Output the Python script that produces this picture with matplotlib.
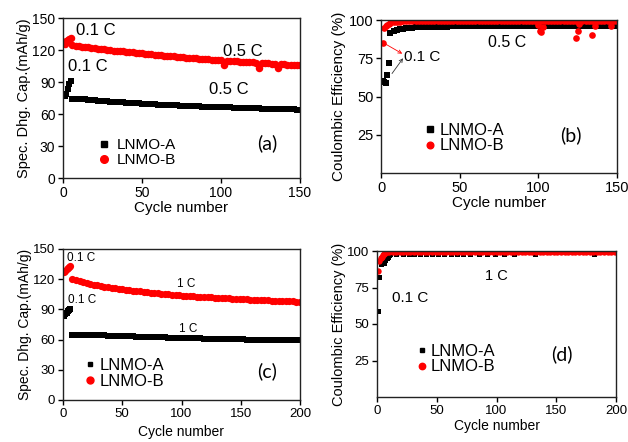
import matplotlib
matplotlib.use("Agg")
import matplotlib.pyplot as plt

plt.rcParams['font.family'] = ['Liberation Sans', 'DejaVu Sans']

# ---------------- Panel (a): capacity, 0.1 C then 0.5 C ----------------
a_slow_cyc = [1, 2, 3, 4, 5]
a_A_slow = [76.5, 79, 83, 88, 90.5]
a_B_slow = [126, 128, 129, 130, 131]
a_fast_cyc = list(range(6, 151, 2))
a_A_fast = [74.5, 74.3, 74.2, 74.0, 73.7, 73.4, 73.1, 72.8, 72.5, 72.3,
            72.0, 71.8, 71.6, 71.4, 71.2, 71.0, 70.8, 70.6, 70.4, 70.2,
            70.0, 69.9, 69.7, 69.5, 69.4, 69.2, 69.1, 68.9, 68.8, 68.6,
            68.5, 68.3, 68.2, 68.1, 67.9, 67.8, 67.7, 67.5, 67.4, 67.3,
            67.2, 67.0, 66.9, 66.8, 66.7, 66.6, 66.5, 66.4, 66.3, 66.2,
            66.1, 66.0, 65.9, 65.8, 65.7, 65.6, 65.5, 65.4, 65.3, 65.2,
            65.1, 65.0, 64.9, 64.9, 64.8, 64.7, 64.6, 64.5, 64.5, 64.4,
            64.3, 64.2, 64.2]
a_B_fast = [124.5, 124.1, 123.6, 123.2, 122.8, 122.4, 122.0, 121.6, 121.2, 120.9,
            120.5, 120.2, 119.8, 119.5, 119.2, 118.9, 118.6, 118.3, 118.0, 117.7,
            117.4, 117.1, 116.8, 116.5, 116.2, 115.9, 115.6, 115.3, 115.0, 114.8,
            114.5, 114.2, 114.0, 113.7, 113.4, 113.2, 112.9, 112.7, 112.4, 112.2,
            111.9, 111.7, 111.4, 111.2, 111.0, 110.7, 110.5, 110.3, 106.0, 109.9,
            109.7, 109.5, 109.3, 109.1, 108.9, 108.7, 108.5, 108.3, 108.1, 103.5,
            107.8, 107.6, 107.4, 107.2, 107.0, 102.8, 106.7, 106.5, 106.4, 106.2,
            106.0, 105.9, 105.7]

# ---------------- Panel (b): coulombic efficiency ----------------
b_slow_cyc = [1, 2, 3, 4, 5]
b_A_slow = [60, 59.5, 59, 64, 72]
b_B_slow = [85, 95, 96, 97, 97.5]
b_fast_cyc = list(range(6, 151, 2))
b_A_fast = [91.5, 92.8, 93.5, 94.0, 94.3, 94.6, 94.8, 95.0, 95.1, 95.2,
            95.3, 95.4, 95.5, 95.5, 95.6, 95.6, 95.7, 95.7, 95.7, 95.8,
            95.8, 95.8, 95.9, 95.9, 95.9, 96.0, 96.0, 96.0, 96.0, 96.0,
            96.0, 96.1, 96.1, 96.1, 96.1, 96.1, 96.1, 96.2, 96.2, 96.2,
            96.2, 96.2, 96.2, 96.2, 96.2, 96.2, 96.3, 96.0, 95.5, 96.0,
            96.3, 96.3, 96.3, 96.3, 96.3, 96.3, 96.3, 96.3, 96.3, 96.0,
            96.3, 96.4, 96.4, 96.4, 96.4, 96.4, 96.4, 96.4, 96.4, 96.4,
            96.4, 96.4, 96.4]
b_B_fast = [98.0, 98.5, 98.8, 99.0, 99.1, 99.2, 99.2, 99.3, 99.3, 99.3,
            99.3, 99.3, 99.3, 99.3, 99.3, 99.3, 99.3, 99.3, 99.3, 99.3,
            99.3, 99.3, 99.3, 99.3, 99.3, 99.3, 99.3, 99.3, 99.3, 99.3,
            99.3, 99.3, 99.3, 99.3, 99.3, 99.3, 99.3, 99.3, 99.3, 99.3,
            99.3, 99.3, 99.3, 99.3, 99.3, 99.3, 99.3, 99.3, 99.3, 99.3,
            99.3, 99.3, 99.3, 99.3, 99.3, 99.3, 99.3, 99.3, 99.3, 99.3,
            99.3, 99.3, 99.3, 99.3, 99.3, 99.3, 99.3, 99.3, 99.3, 99.3,
            99.3, 99.3, 99.3]
b_B_dip_cyc = [100, 101, 102, 103, 124, 125, 126, 134, 136, 146]
b_B_dip = [97.0, 92.5, 92.0, 95.5, 88.5, 92.5, 97.5, 90.0, 96.0, 96.0]

# ---------------- Panel (c): capacity, 0.1 C then 1 C ----------------
c_slow_cyc = [1, 2, 3, 4, 5, 6]
c_A_slow = [83.5, 85, 86.5, 88, 89.5, 90]
c_B_slow = [127, 128.5, 130, 131, 132, 133]
c_fast_cyc = list(range(8, 201, 3))
c_A_fast = [65.0, 64.9, 64.8, 64.7, 64.6, 64.5, 64.4, 64.3, 64.2, 64.1,
            63.9, 63.8, 63.7, 63.6, 63.5, 63.3, 63.2, 63.1, 63.0, 62.9,
            62.8, 62.6, 62.5, 62.4, 62.3, 62.2, 62.1, 62.0, 61.9, 61.8,
            61.7, 61.6, 61.5, 61.4, 61.3, 61.2, 61.1, 61.0, 60.9, 60.8,
            60.7, 60.6, 60.6, 60.5, 60.4, 60.3, 60.3, 60.2, 60.1, 60.0,
            60.0, 59.9, 59.9, 59.8, 59.8, 59.7, 59.7, 59.6, 59.6, 59.5,
            59.5, 59.4, 59.4, 59.4, 59.3]
c_B_fast = [120.0, 119.0, 118.0, 117.0, 116.2, 115.4, 114.7, 114.0, 113.3, 112.7,
            112.1, 111.5, 111.0, 110.5, 110.0, 109.5, 109.0, 108.6, 108.2, 107.8,
            107.4, 107.0, 106.6, 106.3, 106.0, 105.6, 105.3, 105.0, 104.7, 104.4,
            104.1, 103.8, 103.5, 103.3, 103.0, 102.8, 102.5, 102.3, 102.1, 101.9,
            101.7, 101.5, 101.3, 101.1, 100.9, 100.7, 100.5, 100.3, 100.1, 99.9,
            99.8, 99.6, 99.4, 99.3, 99.1, 99.0, 98.8, 98.7, 98.5, 98.4,
            98.2, 98.1, 98.0, 97.8, 97.7]

# ---------------- Panel (d): coulombic efficiency ----------------
d_A_cyc = [1, 2, 3, 4, 5, 6, 7, 8, 9, 10,
           11, 16, 22, 27, 31, 36, 41, 46, 51, 56,
           62, 67, 72, 78, 85, 92, 99, 106, 115, 132, 182]
d_A = [59, 82, 91, 92, 93, 92, 94, 95, 96, 97,
       97.9, 97.9, 97.9, 97.9, 97.9, 97.9, 97.9, 97.9, 97.9, 97.9,
       97.9, 97.9, 97.9, 97.9, 97.9, 97.9, 97.9, 97.9, 97.9, 97.9, 97.9]
d_B_cyc = [1, 2, 3, 4, 5, 6, 7, 8] + list(range(10, 201, 3))
d_B = [86, 93, 95, 96, 97, 98, 98.5, 99.0,
       99.4, 99.4, 99.4, 99.4, 99.4, 99.4, 99.4, 99.4, 99.4, 99.4,
       99.4, 99.4, 99.4, 99.4, 99.4, 99.4, 99.4, 99.4, 99.4, 99.4,
       99.4, 99.4, 99.4, 99.4, 99.4, 99.4, 99.4, 99.4, 99.4, 99.4,
       99.4, 99.4, 99.4, 99.4, 99.4, 99.4, 99.4, 99.4, 99.4, 99.4,
       99.4, 99.4, 99.4, 99.4, 99.4, 99.4, 99.4, 99.4, 99.4, 99.4,
       99.4, 99.4, 99.4, 99.4, 99.4, 99.4, 99.4, 99.4, 99.4, 99.4,
       99.4, 99.4, 99.4, 99.4]

RED = '#ff0000'
BLK = '#000000'
W, H = 628, 442

fig = plt.figure(figsize=(W / 100, H / 100), dpi=100)


def add_ax(l, t, r, b):
    return fig.add_axes([l / W, (H - b) / H, (r - l) / W, (b - t) / H])


def style(ax, fs_tick):
    for s in ax.spines.values():
        s.set_linewidth(1.0)
        s.set_color('#222222')
    ax.tick_params(direction='out', length=3.5, width=1.0, labelsize=fs_tick,
                   top=False, right=False, pad=2)


def legend(ax, fs, mx, my, gap_px, msA, msB):
    fs_px = fs * 100 / 72
    hl = 0.6
    ax_w = ax.get_position().width * W
    x0 = mx - (hl / 2 * fs_px) / ax_w
    tp = (gap_px - hl / 2 * fs_px) / fs_px
    hA, = ax.plot([], [], 's', color=BLK, ms=msA, label='LNMO-A')
    hB, = ax.plot([], [], 'o', color=RED, ms=msB, label='LNMO-B')
    ax.legend(handles=[hA, hB], loc='center left', bbox_to_anchor=(x0, my),
              frameon=False, handlelength=hl, handletextpad=tp, borderpad=0,
              borderaxespad=0, labelspacing=0.05, fontsize=fs, numpoints=1)


LAB = ['Lato', 'DejaVu Sans']

# ---- (a)
ax = add_ax(63, 18, 300, 178)
ax.plot(a_fast_cyc, a_A_fast, 's', color=BLK, ms=4.0, mew=0)
ax.plot(a_slow_cyc, a_A_slow, 's', color=BLK, ms=4.0, mew=0)
ax.plot(a_fast_cyc, a_B_fast, 'o', color=RED, ms=5.4, mew=0)
ax.plot(a_slow_cyc, a_B_slow, 'o', color=RED, ms=5.4, mew=0)
ax.set_xlim(0, 150)
ax.set_ylim(0, 150)
ax.set_xticks([0, 50, 100, 150])
ax.set_yticks([0, 30, 60, 90, 120, 150])
style(ax, 10)
ax.set_xlabel('Cycle number', fontsize=11, labelpad=1)
ax.set_ylabel('Spec. Dhg. Cap.(mAh/g)', fontsize=10.5, labelpad=1)
ax.text(21, 138.4, '0.1 C', fontsize=12, ha='center', va='center')
ax.text(16, 104.7, '0.1 C', fontsize=12, ha='center', va='center')
ax.text(114, 119, '0.5 C', fontsize=12, ha='center', va='center')
ax.text(105, 83, '0.5 C', fontsize=12, ha='center', va='center')
ax.text(129, 33, '(a)', fontsize=14, ha='center', va='center', family=LAB)
legend(ax, 11, 26 / 150, 23.8 / 150, 13, 4.5, 5.5)

# ---- (b)
ax = add_ax(381, 20, 617, 173)
ax.plot(b_fast_cyc, b_A_fast, 's', color=BLK, ms=4.0, mew=0)
ax.plot(b_slow_cyc, b_A_slow, 's', color=BLK, ms=4.0, mew=0)
ax.plot(b_fast_cyc, b_B_fast, 'o', color=RED, ms=4.8, mew=0)
ax.plot(b_slow_cyc, b_B_slow, 'o', color=RED, ms=4.8, mew=0)
ax.plot(b_B_dip_cyc, b_B_dip, 'o', color=RED, ms=4.8, mew=0)
ax.set_xlim(0, 150)
ax.set_ylim(0, 100)
ax.set_xticks([0, 50, 100, 150])
ax.set_yticks([25, 50, 75, 100])
style(ax, 10.5)
ax.set_xlabel('Cycle number', fontsize=11, labelpad=1)
ax.set_ylabel('Coulombic Efficiency (%)', fontsize=11, labelpad=2)
ax.text(80, 85, '0.5 C', fontsize=11.5, ha='center', va='center')
ax.text(14.5, 76, '0.1 C', fontsize=11, ha='left', va='center')
ax.annotate('', xy=(13.5, 78), xytext=(2.5, 84.5),
            arrowprops=dict(arrowstyle='->', color=RED, lw=0.6, shrinkA=0, shrinkB=0,
                            mutation_scale=6))
ax.annotate('', xy=(14, 75), xytext=(7, 65),
            arrowprops=dict(arrowstyle='->', color='#333333', lw=0.6, shrinkA=0, shrinkB=0,
                            mutation_scale=6))
ax.text(121, 25, '(b)', fontsize=14, ha='center', va='center', family=LAB)
legend(ax, 12, 31 / 150, 0.229, 9.5, 4.0, 4.8)

# ---- (c)
ax = add_ax(63, 249, 300, 400)
ax.plot(c_fast_cyc, c_A_fast, 's', color=BLK, ms=4.0, mew=0)
ax.plot(c_slow_cyc, c_A_slow, 's', color=BLK, ms=4.0, mew=0)
ax.plot(c_fast_cyc, c_B_fast, 'o', color=RED, ms=5.2, mew=0)
ax.plot(c_slow_cyc, c_B_slow, 'o', color=RED, ms=5.2, mew=0)
ax.set_xlim(0, 200)
ax.set_ylim(0, 150)
ax.set_xticks([0, 50, 100, 150, 200])
ax.set_yticks([0, 30, 60, 90, 120, 150])
style(ax, 9.5)
ax.set_xlabel('Cycle number', fontsize=10, labelpad=4)
ax.set_ylabel('Spec. Dhg. Cap.(mAh/g)', fontsize=10, labelpad=1)
ax.text(15.5, 141, '0.1 C', fontsize=8.5, ha='center', va='center')
ax.text(16, 99, '0.1 C', fontsize=8.5, ha='center', va='center')
ax.text(104, 115, '1 C', fontsize=8.5, ha='center', va='center')
ax.text(106, 71, '1 C', fontsize=8.5, ha='center', va='center')
ax.text(172, 29, '(c)', fontsize=14, ha='center', va='center', family=LAB)
legend(ax, 12, 22.5 / 200, 26.7 / 150, 10, 3.0, 5.0)

# ---- (d)
ax = add_ax(377, 251, 616, 397)
ax.plot(d_A_cyc, d_A, 's', color=BLK, ms=3.6, mew=0)
ax.plot(d_B_cyc, d_B, 'o', color=RED, ms=4.6, mew=0)
ax.set_xlim(0, 200)
ax.set_ylim(0, 100)
ax.set_xticks([0, 50, 100, 150, 200])
ax.set_yticks([25, 50, 75, 100])
style(ax, 9.5)
ax.set_xlabel('Cycle number', fontsize=10, labelpad=2)
ax.set_ylabel('Coulombic Efficiency (%)', fontsize=10.5, labelpad=1)
ax.text(100, 83, '1 C', fontsize=10.5, ha='center', va='center')
ax.text(28, 68, '0.1 C', fontsize=11, ha='center', va='center')
ax.text(155, 29, '(d)', fontsize=14, ha='center', va='center', family=LAB)
legend(ax, 12, 38 / 200, 0.26, 8.5, 3.4, 4.6)

fig.savefig('out.png', dpi=100)
